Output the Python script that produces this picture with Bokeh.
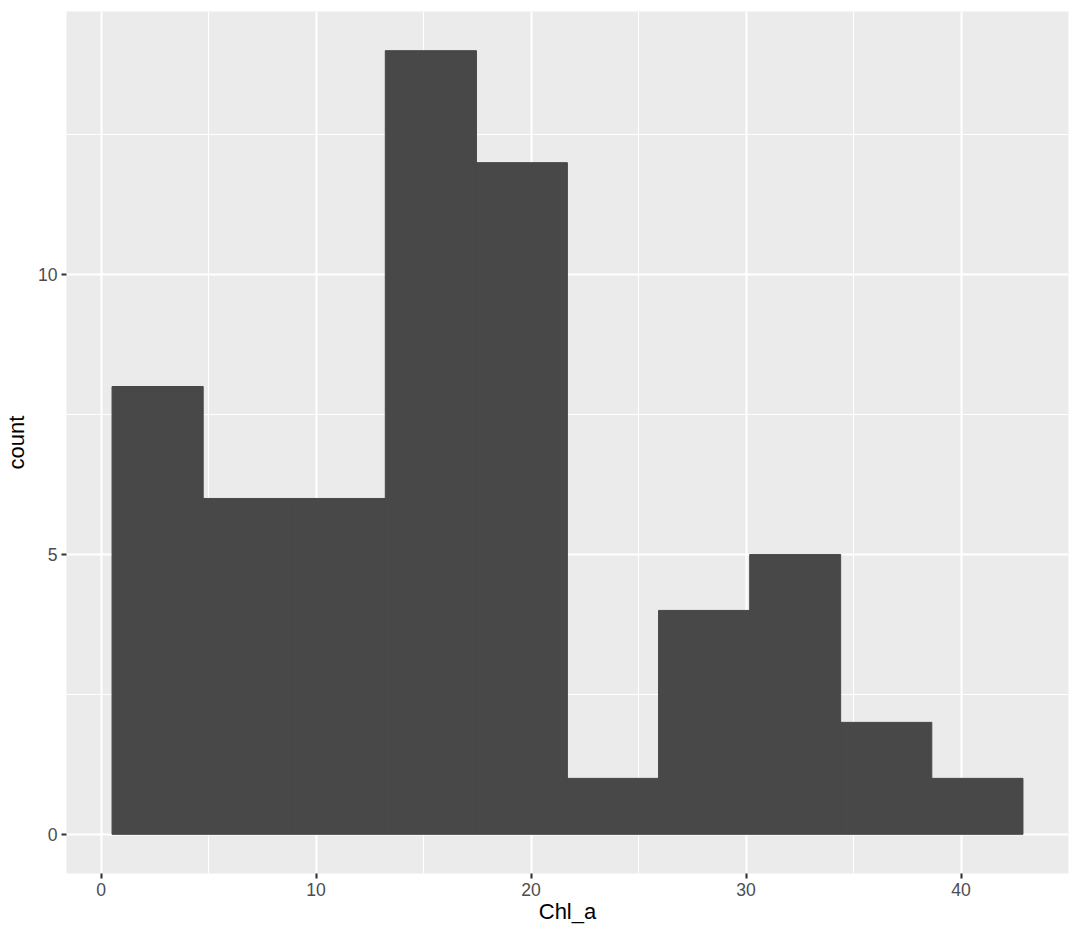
from bokeh.plotting import figure
from bokeh.models import ColumnDataSource, Range1d, FixedTicker
from bokeh.embed import file_html
from bokeh.resources import INLINE

# Histogram of Chl_a (10 bins)
bin_edges = [0.51, 4.75, 8.98, 13.22, 17.46, 21.69, 25.93, 30.17, 34.40, 38.64, 42.88]
counts = [8, 6, 6, 14, 12, 1, 4, 5, 2, 1]
x_ticks = [0, 10, 20, 30, 40]
x_minor = [5, 15, 25, 35]
y_ticks = [0, 5, 10]
y_minor = [2.5, 7.5, 12.5]

src = ColumnDataSource(dict(
    left=bin_edges[:-1], right=bin_edges[1:], top=counts, bottom=[0] * len(counts)
))

xlo, xhi = min(bin_edges), max(bin_edges)
xpad = (xhi - xlo) * 0.05
ylo, yhi = 0, max(counts)
ypad = (yhi - ylo) * 0.05

p = figure(width=1080, height=936, output_backend="svg", toolbar_location=None,
           x_range=Range1d(xlo - xpad, xhi + xpad), y_range=Range1d(ylo - ypad, yhi + ypad),
           min_border_left=66, min_border_top=11, min_border_right=12, min_border_bottom=63)

p.quad(left="left", right="right", top="top", bottom="bottom", source=src,
       fill_color="#484848", line_color="#484848", line_width=1)

p.background_fill_color = "#EBEBEB"
p.border_fill_color = "white"
p.outline_line_color = None

p.xaxis.ticker = FixedTicker(ticks=x_ticks, minor_ticks=x_minor)
p.yaxis.ticker = FixedTicker(ticks=y_ticks, minor_ticks=y_minor)

for g in (p.xgrid, p.ygrid):
    g.grid_line_color = "white"
    g.grid_line_width = 2.1
    g.minor_grid_line_color = "white"
    g.minor_grid_line_width = 1.05

for ax in (p.xaxis, p.yaxis):
    ax.axis_line_color = None
    ax.minor_tick_line_color = None
    ax.major_tick_line_color = "#333333"
    ax.major_tick_line_width = 2.1
    ax.major_tick_out = 5
    ax.major_tick_in = 0
    ax.major_label_text_font = "Liberation Sans"
    ax.major_label_text_font_size = "17.6px"
    ax.major_label_text_color = "#4D4D4D"
    ax.axis_label_text_font = "Liberation Sans"
    ax.axis_label_text_font_size = "22px"
    ax.axis_label_text_font_style = "normal"
    ax.axis_label_text_color = "black"

p.xaxis.axis_label = "Chl_a"
p.yaxis.axis_label = "count"
p.xaxis.major_label_standoff = 4
p.yaxis.major_label_standoff = 4
p.xaxis.axis_label_standoff = 0
p.yaxis.axis_label_standoff = 6

open("out.html", "w").write(file_html(p, INLINE))
